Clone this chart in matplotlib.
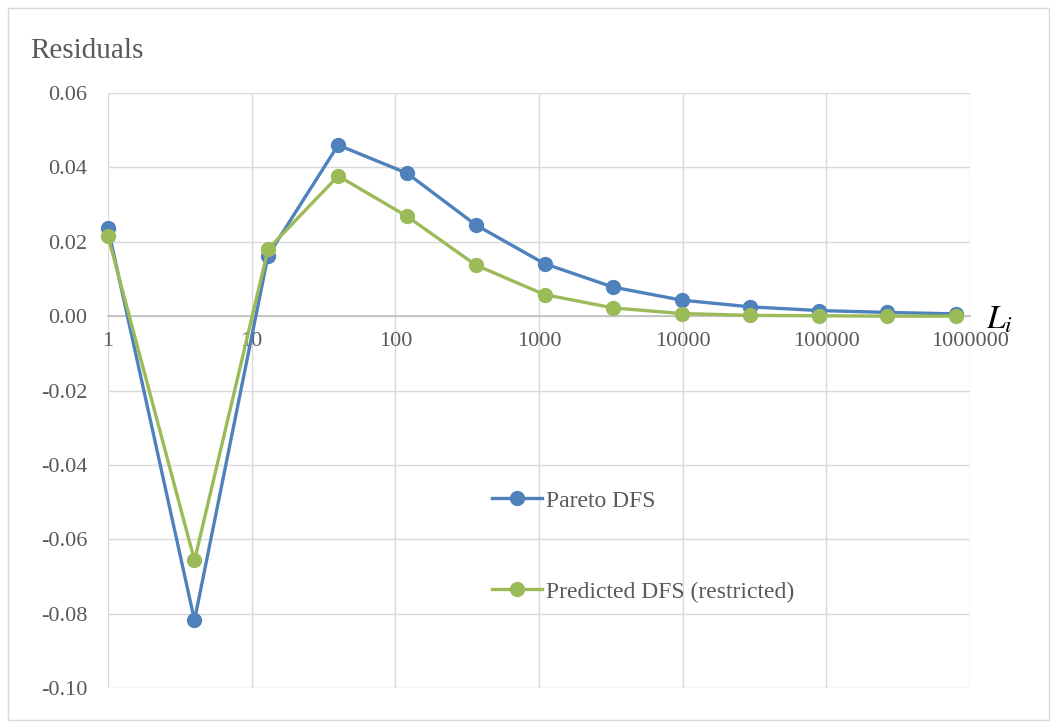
import matplotlib.pyplot as plt
from matplotlib.patches import Rectangle
from matplotlib.ticker import FixedLocator, FuncFormatter

# Group sizes L_i and residuals of the two fits
L = [1, 4, 13, 40, 121, 364, 1093, 3280, 9841, 29524, 88573, 265720, 797161]
pareto = [0.0237, -0.0818, 0.0163, 0.0460, 0.0384, 0.0245, 0.0141,
          0.0078, 0.0043, 0.0025, 0.0015, 0.0010, 0.0006]
predicted = [0.0215, -0.0657, 0.0180, 0.0377, 0.0268, 0.0137, 0.0058,
             0.0022, 0.0007, 0.0002, 0.0001, 0.0000, 0.0000]

x_ticks = [1, 10, 100, 1000, 10000, 100000, 1000000]
y_ticks = [-0.10, -0.08, -0.06, -0.04, -0.02, 0.00, 0.02, 0.04, 0.06]

plt.rcParams['font.family'] = ['Liberation Serif', 'DejaVu Serif']

fig = plt.figure(figsize=(10.57, 7.28), dpi=100)
ax = fig.add_axes([108 / 1057, 40 / 728, 862 / 1057, 595 / 728])

# light frame around the whole chart
fig.patches.append(Rectangle((8 / 1057, 8 / 728), 1041 / 1057, 712 / 728,
                             transform=fig.transFigure, fill=False,
                             edgecolor='#D9D9D9', linewidth=1))

ax.plot(L, pareto, color='#4F81BD', linewidth=2.4, marker='o',
        markersize=10, label='Pareto DFS', zorder=3, clip_on=False)
ax.plot(L, predicted, color='#9BBB59', linewidth=2.4, marker='o',
        markersize=10, label='Predicted DFS (restricted)', zorder=4,
        clip_on=False)

ax.set_xscale('log')
ax.set_xlim(1, 1000000)
ax.set_ylim(-0.10, 0.06)
ax.xaxis.set_major_locator(FixedLocator(x_ticks))
ax.xaxis.set_minor_locator(FixedLocator([]))
ax.xaxis.set_major_formatter(FuncFormatter(lambda v, p: f'{int(round(v))}'))
ax.yaxis.set_major_locator(FixedLocator(y_ticks))
ax.yaxis.set_major_formatter(FuncFormatter(lambda v, p: f'{v:.2f}'))

ax.grid(True, color='#D9D9D9', linewidth=1)
ax.set_axisbelow(True)
for side in ['left', 'right', 'top']:
    ax.spines[side].set_visible(False)
ax.spines['bottom'].set_position(('data', 0))
ax.spines['bottom'].set_color('#BFBFBF')
ax.spines['bottom'].set_linewidth(1.2)

ax.tick_params(axis='both', length=0, labelsize=16, labelcolor='#595959')
ax.tick_params(axis='x', pad=11.5)
ax.tick_params(axis='y', pad=15)

fig.text(30 / 1057, 1 - 51 / 728, 'Residuals', fontsize=21,
         color='#595959', va='center', ha='left')
fig.text(986 / 1057, 1 - 320 / 728, '$L_i$', fontsize=24,
         va='center', ha='left', color='black',
         math_fontfamily='stix')

ax.legend(loc='upper left', bbox_to_anchor=(492 / 1057, 1 - 490 / 728),
          bbox_transform=fig.transFigure, borderpad=0, borderaxespad=0,
          frameon=False, fontsize=17, labelcolor='#595959',
          labelspacing=2.95, handlelength=2.1, handletextpad=0.2)

fig.savefig('out.png', dpi=100)
